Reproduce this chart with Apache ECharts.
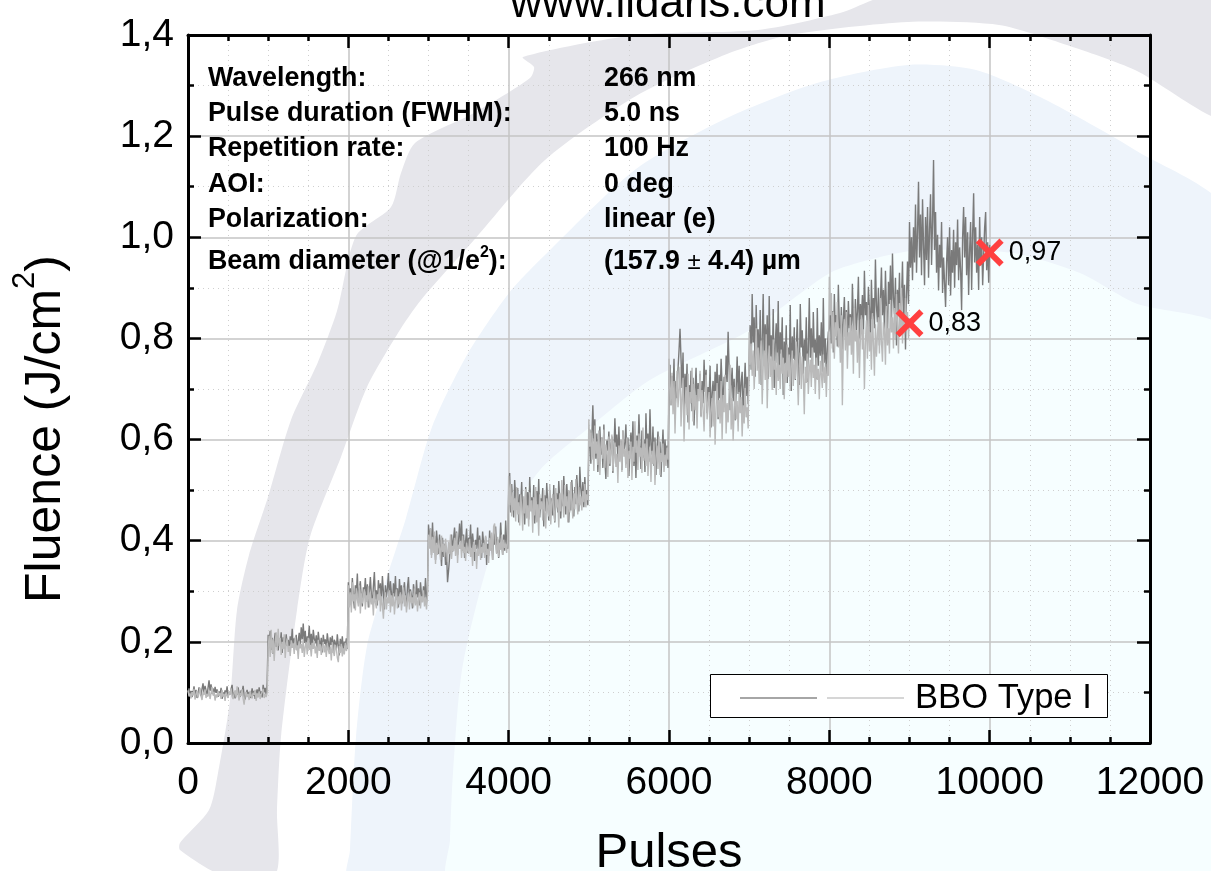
<!DOCTYPE html>
<html><head><meta charset="utf-8">
<style>html,body{margin:0;padding:0;background:#fff}#c{width:1211px;height:871px}</style>
<script src="https://cdn.jsdelivr.net/npm/echarts@6/dist/echarts.min.js"></script>
</head><body><div id="c"></div>
<script>
// Fluence readings in mJ/cm2. Each list covers one fluence step of 1000 pulses.
const pulsesPerStep = 1000;
const dark0 = [100,108,96,103,91,99,112,94,105,89,97,110,101,93,107,118,98,113,104,92,109,124,103,116,97,108,94,111,99,106,91,102,95,109,87,100,93,104,98,112,90,101,96,107,115,92,99,88,103,95,110,97,91,104,100,113,94,86,98,105,92,101,89,96,108,93,103,87,99,106,94,110,97,102,90,115,100,109,95,120];
const dark1 = [214,196,222,184,208,176,201,218,190,212,183,205,194,219,178,209,198,186,215,192,204,181,211,195,226,188,207,199,214,183,202,218,193,229,205,236,198,222,190,211,203,232,194,216,187,224,206,197,213,183,220,201,192,208,179,214,196,205,188,217,200,183,209,194,212,178,204,198,186,215,192,173,206,189,211,182,200,193,207,186];
const dark2 = [318,282,306,274,326,290,266,312,296,335,278,304,320,286,270,308,298,326,280,314,268,300,328,292,276,310,338,284,302,272,322,294,316,280,330,298,264,312,288,306,336,278,320,296,272,316,290,330,284,306,268,324,294,312,276,300,318,286,270,308,328,282,304,292,266,314,298,276,322,288,306,272,318,294,280,310,286,326,278,300];
const dark3 = [432,398,424,372,436,388,410,362,420,396,374,412,384,350,406,368,394,352,378,318,340,366,390,412,378,404,426,386,418,372,400,434,392,440,380,412,366,398,424,376,406,388,432,370,414,392,360,402,384,426,374,410,390,366,418,396,378,408,352,394,370,420,384,400,362,414,392,428,376,404,366,388,436,398,372,412,380,440,392,384];
const dark4 = [490,534,456,512,474,446,520,488,462,504,436,492,470,516,450,482,432,506,464,496,442,526,472,486,452,510,434,478,498,460,522,446,484,470,504,428,490,458,514,474,440,500,466,484,450,510,436,476,494,456,518,480,444,502,468,528,486,452,512,476,436,498,460,520,482,448,506,472,530,490,458,546,504,478,516,466,526,486,500,470];
const dark5 = [580,620,552,604,668,596,640,562,612,536,590,626,570,604,544,630,560,522,598,578,616,548,590,606,534,572,642,586,610,556,626,566,598,540,618,574,592,630,552,604,528,582,614,568,636,548,596,524,608,572,650,586,542,618,564,600,536,652,578,612,556,660,590,570,626,548,604,530,582,616,560,596,526,574,620,552,600,566,588,544];
const dark6 = [702,748,668,726,692,760,650,716,682,740,776,819,760,702,772,648,730,690,750,634,708,672,736,656,722,628,698,742,664,712,684,730,646,716,672,758,694,738,652,704,680,746,624,692,716,660,734,696,750,640,728,682,760,706,668,724,690,766,714,813,740,658,706,742,676,720,638,698,764,690,746,668,712,734,654,700,752,686,724,670];
const dark7 = [760,826,738,888,792,842,724,866,776,818,742,856,708,796,888,752,828,770,846,720,884,764,806,738,858,702,788,830,752,874,726,812,770,842,688,794,750,826,712,782,738,866,696,804,760,822,718,776,838,742,708,868,782,816,730,798,756,842,714,778,880,762,820,734,852,772,798,720,860,746,806,766,832,734,880,752,800,726,780,812];
const dark8 = [820,876,790,854,772,888,812,846,784,906,826,798,862,778,838,882,804,856,790,874,820,848,786,908,836,806,878,816,852,922,800,868,838,886,808,934,846,872,816,902,860,790,916,838,880,820,956,864,832,900,786,876,940,846,896,816,934,858,800,912,868,944,826,968,880,848,920,786,896,852,930,812,872,952,836,906,778,884,952,868];
const dark9 = [1030,940,1000,915,1020,950,1065,930,1010,1110,960,1045,925,1075,985,905,1040,955,1060,920,1015,1085,945,1030,1153,975,1050,930,1005,895,985,940,1030,890,960,910,862,950,1000,905,1020,885,975,930,1015,900,990,945,1035,915,980,935,856,1000,1060,960,1040,925,1010,886,975,1030,896,1005,1087,950,1020,930,985,896,1040,945,1000,905,965,1020,1050,935,990,910,985];
const light0 = [104,92,98,88,101,94,107,86,96,103,90,99,109,93,85,100,95,106,89,97,92,104,87,98,111,94,101,84,96,90,103,93,99,87,105,91,97,83,100,94,89,102,96,108,92,87,98,104,90,112,95,84,99,93,106,88,76,94,101,91,97,85,103,92,88,99,95,105,83,98,90,102,87,96,93,107,89,97,91,100];
const light1 = [188,212,170,224,178,205,162,198,219,183,226,192,208,174,200,186,215,168,196,207,180,192,172,203,188,197,176,210,184,193,166,201,187,196,178,205,170,190,199,175,208,184,194,171,198,186,202,177,191,168,204,182,195,174,188,200,179,193,170,197,184,176,190,163,199,181,172,194,186,169,160,192,178,196,171,187,175,198,182,190];
const light2 = [312,268,298,258,318,280,294,262,306,284,270,312,256,296,276,288,304,264,292,280,310,268,298,274,286,252,300,278,266,294,282,306,260,290,272,246,284,298,264,288,276,302,258,292,270,296,254,282,304,266,290,274,298,262,286,308,270,292,258,280,296,264,300,276,288,268,306,272,294,260,284,298,266,290,278,302,270,288,264,294];
const light3 = [412,384,424,366,408,376,418,354,396,372,402,386,362,410,378,394,368,404,384,358,398,374,412,364,390,380,406,370,416,356,392,384,400,366,410,376,388,360,396,382,374,404,368,386,350,398,378,392,344,384,370,402,362,388,376,396,366,410,372,384,356,406,380,416,362,428,434,392,374,408,368,396,382,412,372,402,386,394,376,404];
const light4 = [528,470,512,448,496,460,484,438,506,452,476,430,492,466,420,488,454,502,444,470,428,496,458,480,416,486,450,506,436,472,410,492,462,478,440,500,456,424,484,468,448,512,432,476,492,454,438,504,466,482,426,494,458,520,474,446,510,468,488,436,500,456,516,478,444,494,462,522,476,452,506,470,488,460,498,476,512,466,492,480];
const light5 = [640,586,614,560,602,538,628,572,596,550,618,530,584,604,562,620,544,590,574,526,606,552,580,610,538,568,594,546,572,514,588,556,600,536,618,566,582,544,604,524,578,562,596,520,586,556,636,574,598,540,612,566,584,534,624,558,592,548,602,528,570,586,516,578,552,596,510,566,588,542,606,530,574,556,592,536,570,548,584,560];
const light6 = [760,706,668,732,650,716,612,690,736,664,700,744,626,682,722,596,668,704,648,730,620,694,672,742,636,710,658,688,622,700,676,736,644,698,660,616,686,728,640,672,694,604,658,682,626,696,590,664,712,644,678,632,716,600,688,654,728,612,672,634,696,748,620,682,598,660,704,640,676,616,694,652,684,606,668,632,702,644,664,622];
const light7 = [812,748,790,726,776,700,758,820,736,782,710,768,796,670,744,776,718,808,662,750,786,724,764,698,798,738,756,688,772,716,748,700,778,730,762,680,752,712,788,724,768,696,742,776,706,758,720,794,738,668,746,772,700,764,726,650,744,712,770,690,736,758,704,782,722,748,690,762,718,740,680,756,730,702,768,712,744,684,750,726];
const light8 = [922,846,890,780,852,760,832,804,872,782,820,752,846,668,800,838,776,852,740,812,786,842,768,826,730,860,794,816,752,836,722,804,846,778,818,700,792,836,760,866,774,812,738,850,790,726,828,764,806,842,770,880,796,754,832,816,748,864,786,820,770,876,812,842,780,860,800,888,826,770,870,816,900,790,846,808,880,824,852,800,840];
const markerPulses = [9000, 10000];
const markerFluence = [0.83, 0.97];
const seriesName = 'BBO Type I';
const infoLabels = ['Wavelength:','Pulse duration (FWHM):','Repetition rate:','AOI:','Polarization:'];
const infoValues = ['266 nm','5.0 ns','100 Hz','0 deg','linear (e)'];

const toPoints = lists => lists.flatMap((list,s)=>{
  const divisions = s === lists.length-1 ? list.length-1 : list.length;
  return list.map((v,j)=>[s*pulsesPerStep + j*pulsesPerStep/divisions, v/1000]);
});
const darkPoints = toPoints([dark0,dark1,dark2,dark3,dark4,dark5,dark6,dark7,dark8,dark9]);
const lightPoints = toPoints([light0,light1,light2,light3,light4,light5,light6,light7,light8]);
const comma = v => v.toFixed(1).replace('.',',');
const FONT = '"Liberation Sans", Arial, sans-serif';

const poly = (points, fill, z) => ({type:'polygon', silent:true, z, shape:{points, smooth:0.25}, style:{fill}});
const grayShape = [[180,843],[209,810],[218,773],[230,700],[237,610],[249,555],[268,497],[291,420],[318,362],[337,311],[356,236],[391,207],[401,173],[415,143],[474,113],[530,78],[534,67],[523,57],[636,35],[758,30],[840,13],[894,-6],[1230,-6],[1230,120],[1135,70],[1067,45],[999,25],[908,22],[790,35],[727,54],[636,96],[545,160],[474,240],[421,300],[398,333],[367,387],[341,457],[310,537],[297,610],[281,737],[277,810],[275,875],[222,875],[180,850]];
const blueShape = [[349,880],[350,850],[356,737],[367,646],[387,577],[406,518],[432,427],[467,355],[509,293],[545,255],[636,169],[727,118],[817,83],[908,65],[976,70],[1044,99],[1135,150],[1230,218],[1230,890]];
const paleShape = [[449,880],[450,840],[453,773],[463,664],[497,537],[540,470],[590,427],[650,380],[750,330],[830,273],[880,257],[920,250],[1013,253],[1080,273],[1135,303],[1230,335],[1230,890]];

const infoY = [79,114,149,185,220];
const BOLD = 'bold 26.8px '+FONT;
const txt = (x,y,text,extra) => ({type:'text', z:60, x, y, style:Object.assign({text, font:BOLD, fill:'#000', verticalAlign:'middle', align:'left'}, extra||{})});
const elements = [
  poly(grayShape,'#e6e6eb',-100), poly(blueShape,'#eef4fb',-99), poly(paleShape,'#f6feff',-98),
  ...infoLabels.map((t,i)=>txt(208,infoY[i],t)),
  ...infoValues.map((t,i)=>txt(604,infoY[i],t)),
  txt(208,262,'{b|Beam diameter (@1/e}{s|2}{b|):}',{rich:{b:{font:BOLD,fill:'#000'},s:{font:'bold 16px '+FONT,fill:'#000',padding:[0,0,18,0]}}}),
  txt(604,262,'{b|(157.9 }{p|±}{b| 4.4) µm}',{rich:{b:{font:BOLD,fill:'#000'},p:{font:'24px '+FONT,fill:'#000'}}}),
  {type:'rect', z:50, silent:true, shape:{x:710.5,y:674.5,width:397,height:43}, style:{fill:'#fff',stroke:'#000',lineWidth:1}},
  {type:'line', z:51, silent:true, shape:{x1:740,y1:698,x2:817,y2:698}, style:{stroke:'#888888',lineWidth:1.4}},
  {type:'line', z:51, silent:true, shape:{x1:827,y1:698,x2:904,y2:698}, style:{stroke:'#c8c8c8',lineWidth:1.4}},
  {type:'text', z:52, silent:true, x:915, y:698, style:{text:seriesName, font:'34.6px '+FONT, fill:'#000', verticalAlign:'middle', align:'left'}}
];

const xBase = {type:'value', min:0, max:12000, interval:2000,
  axisLine:{show:true,onZero:false,lineStyle:{color:'#000',width:3}},
  axisTick:{show:true,inside:true,length:13,lineStyle:{color:'#000',width:2.5}},
  minorTick:{show:true,splitNumber:4,length:6,lineStyle:{color:'#000',width:2.5}}};
const yBase = {type:'value', min:0, max:1.4, interval:0.2,
  axisLine:{show:true,onZero:false,lineStyle:{color:'#000',width:3}},
  axisTick:{show:true,inside:true,length:13,lineStyle:{color:'#000',width:2.5}},
  minorTick:{show:true,splitNumber:2,length:6,lineStyle:{color:'#000',width:2.5}}};
const major = {show:true,lineStyle:{color:'#c4c4c4',width:1.5}};
const minor = {show:true,lineStyle:{color:'#cfcfcf',width:1,type:[1,4]}};

const chart = echarts.init(document.getElementById('c'), null, {renderer:'canvas', width:1211, height:871});
chart.setOption({
  animation:false,
  backgroundColor:'#ffffff',
  textStyle:{fontFamily:FONT},
  title:{text:'www.lidaris.com', left:663, top:-22, textAlign:'center', textStyle:{fontFamily:FONT,fontSize:44,fontWeight:'normal',color:'#000'}},
  grid:{left:188,right:61,top:35,bottom:128,containLabel:false,outerBoundsMode:'none'},
  xAxis:[
    Object.assign({},xBase,{position:'bottom',name:'Pulses',nameLocation:'middle',nameGap:86,nameTextStyle:{fontFamily:FONT,fontSize:49,color:'#000'},
      axisLabel:{show:true,color:'#000',fontFamily:FONT,fontSize:39,margin:21,formatter:v=>String(v),showMinLabel:true,showMaxLabel:true,hideOverlap:false},
      splitLine:major,minorSplitLine:minor}),
    Object.assign({},xBase,{position:'top',axisLabel:{show:false},splitLine:{show:false}})
  ],
  yAxis:[
    Object.assign({},yBase,{position:'left',name:'{a|Fluence (J/cm}{s|2}{a|)}',nameLocation:'middle',nameGap:105,nameRotate:90,
      nameTextStyle:{color:'#000',padding:[0,80,0,0],rich:{a:{fontFamily:FONT,fontSize:50,color:'#000'},s:{fontFamily:FONT,fontSize:31,color:'#000',padding:[0,0,42,0]}}},
      axisLabel:{show:true,color:'#000',fontFamily:FONT,fontSize:39,margin:14,formatter:comma,showMinLabel:true,showMaxLabel:true},
      splitLine:major,minorSplitLine:minor}),
    Object.assign({},yBase,{position:'right',axisLabel:{show:false},splitLine:{show:false}})
  ],
  series:[
    {name:seriesName,type:'line',data:darkPoints,showSymbol:false,sampling:'none',silent:true,z:3,lineStyle:{color:'#7a7a7a',width:1.4}},
    {name:seriesName+' (2)',type:'line',data:lightPoints,showSymbol:false,sampling:'none',silent:true,z:4,lineStyle:{color:'#bababa',width:1.4}},
    {name:'Markers',type:'scatter',z:5,silent:true,
      data:markerPulses.map((p,i)=>[p,markerFluence[i]]),
      symbol:'path://M15 0L50 35L85 0L100 15L65 50L100 85L85 100L50 65L15 100L0 85L35 50L0 15Z',symbolSize:28,
      itemStyle:{color:'#ff4040',opacity:1},
      label:{show:true,position:'right',distance:5,color:'#000',fontFamily:FONT,fontSize:27,formatter:p=>p.value[1].toFixed(2).replace('.',',')}}
  ],
  graphic:{elements}
});
</script></body></html>
